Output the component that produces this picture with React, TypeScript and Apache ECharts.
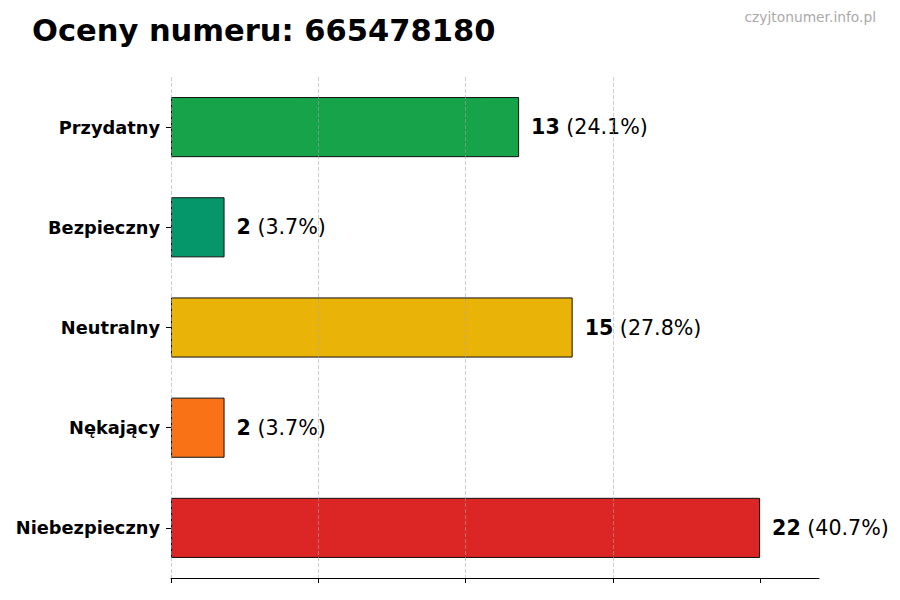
import { useEffect, useRef } from 'react';
import * as echarts from 'echarts';

const categories = ['Przydatny', 'Bezpieczny', 'Neutralny', 'Nękający', 'Niebezpieczny'];
const counts = [13, 2, 15, 2, 22];
const percents = ['24.1%', '3.7%', '27.8%', '3.7%', '40.7%'];
const barColors = ['#16a34a', '#059669', '#eab308', '#f97316', '#dc2626'];
const xTicks = [0, 5.5, 11, 16.5, 22];

const FONT = 'DejaVu Sans';

export default function App() {
  const chartRef = useRef<HTMLDivElement>(null);

  useEffect(() => {
    if (!chartRef.current) return;
    const chart = echarts.init(chartRef.current, undefined, { renderer: 'svg' });

    const option: echarts.EChartsOption = {
      animation: false,
      backgroundColor: '#fff',
      textStyle: { fontFamily: FONT },
      graphic: [
        {
          type: 'text',
          left: 32,
          top: 15,
          style: {
            text: 'Oceny numeru: 665478180',
            fontFamily: FONT,
            fontSize: 30.5,
            fontWeight: 'bold',
            fill: '#000',
          },
        },
        {
          type: 'text',
          right: 24,
          top: 10,
          style: {
            text: 'czyjtonumer.info.pl',
            fontFamily: FONT,
            fontSize: 13.8,
            fill: '#aaaaaa',
          },
        },
      ],
      grid: { left: 171, right: 81, top: 77, bottom: 22 },
      xAxis: {
        type: 'value',
        min: 0,
        max: 24.2,
        interval: 5.5,
        z: 5,
        axisLine: { show: true, lineStyle: { color: '#000', width: 1 } },
        axisTick: { show: true, length: 5, customValues: xTicks, lineStyle: { color: '#000' } },
        axisLabel: { show: false },
        splitLine: {
          show: true,
          showMaxLine: false,
          lineStyle: { type: 'dashed', color: 'rgba(165,165,165,0.55)', width: 1 },
        },
      },
      yAxis: {
        type: 'category',
        inverse: true,
        data: categories,
        axisLine: { show: false },
        axisTick: { show: true, alignWithLabel: true, length: 5, lineStyle: { color: '#000' } },
        axisLabel: {
          margin: 11,
          color: '#000',
          fontFamily: FONT,
          fontSize: 17.8,
          fontWeight: 'bold',
        },
        splitLine: { show: false },
      },
      series: [
        {
          type: 'bar',
          barWidth: '60%',
          data: counts.map((v, i) => ({
            value: v,
            itemStyle: { color: barColors[i], borderColor: '#111', borderWidth: 1 },
          })),
          label: {
            show: true,
            position: 'right',
            distance: 12,
            formatter: (p: any) => `{b|${counts[p.dataIndex]}}{n| (${percents[p.dataIndex]})}`,
            rich: {
              b: { fontFamily: FONT, fontSize: 20.6, fontWeight: 'bold', color: '#000' },
              n: { fontFamily: FONT, fontSize: 20.6, color: '#000' },
            },
          },
        },
      ],
    };

    chart.setOption(option);
    return () => chart.dispose();
  }, []);

  return (
    <div
      ref={chartRef}
      style={{ position: 'fixed', left: 0, top: 0, width: 900, height: 600 }}
    />
  );
}
